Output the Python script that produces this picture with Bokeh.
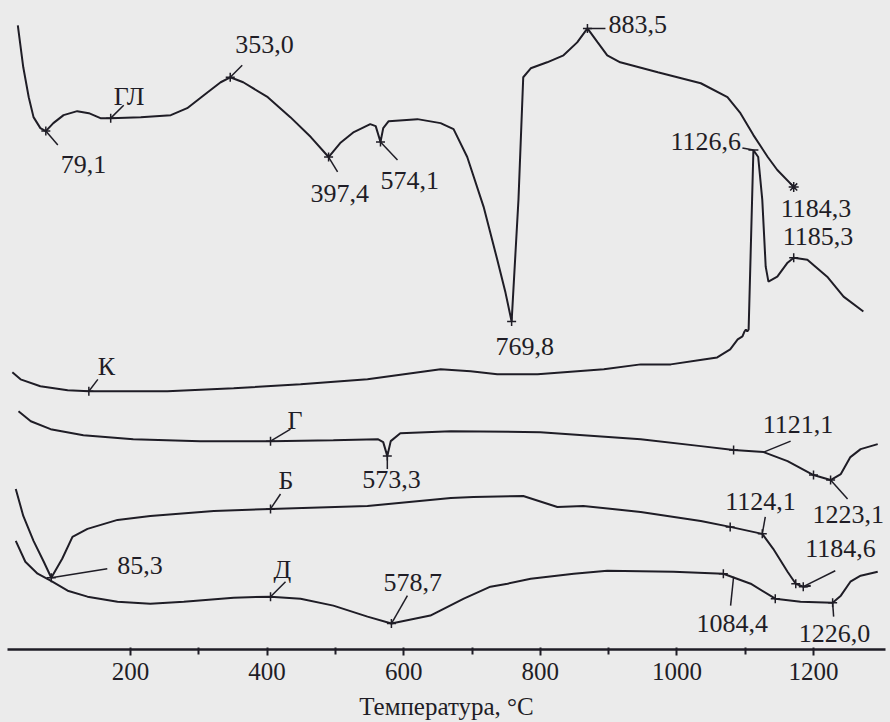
from bokeh.plotting import figure
from bokeh.models import Range1d, FixedTicker
from bokeh.core.properties import value
from bokeh.embed import file_html
from bokeh.resources import INLINE

# ---------------- data (temperature, °C ; DTA signal, arbitrary units, curves stacked) -------------
tick_major = [200, 400, 600, 800, 1000, 1200]
tick_minor = [300, 500, 700, 900, 1100]

# curve ГЛ
gl_t = [35, 43, 51, 58, 68, 76, 87, 102, 122, 139, 156, 171, 215, 259, 283, 313, 332, 346, 365, 401,
        434, 464, 490, 507, 527, 551, 559, 566, 570, 578, 620, 654, 673, 693, 717, 737, 749, 758, 768, 775,
        786, 810, 834, 854, 869, 884, 898, 917, 972, 1035, 1074, 1093, 1112, 1133, 1147, 1171]
gl_v = [626, 584, 554, 534, 523, 520, 528, 536, 540, 538, 533, 533, 534, 536, 543, 559, 569, 574, 569, 554,
        534, 514, 494, 508, 519, 527, 525, 509, 523, 530, 532, 528, 522, 494, 444, 391, 358, 329, 451, 574,
        583, 589, 596, 609, 623, 609, 596, 589, 579, 568, 554, 538, 516, 494, 481, 464]

# curve К
k_t = [27, 39, 68, 108, 139, 254, 351, 449, 547, 654, 698, 737, 796, 893, 947, 991, 1039, 1059, 1078, 1089,
       1096, 1099, 1101, 1103, 1105, 1112, 1119, 1125, 1130, 1134, 1147, 1162, 1171, 1191, 1220, 1244, 1273]
k_v = [278, 271, 264, 260, 259, 259, 262, 266, 271, 281, 279, 276, 276, 281, 286, 286, 291, 293, 301, 311,
       314, 319, 321, 319, 321, 501, 494, 451, 384, 369, 374, 388, 393, 391, 374, 354, 339]

# curve Г
g_t = [36, 54, 83, 131, 204, 302, 405, 497, 562, 570, 576, 581, 595, 669, 800, 947, 1035, 1083, 1127, 1162,
       1200, 1225, 1240, 1254, 1269, 1294]
g_v = [239, 229, 221, 215, 211, 209, 209, 210, 211, 208, 194, 209, 217, 219, 218, 211, 204, 200, 198, 189,
       175, 170, 176, 193, 201, 206]

# curve Б
b_t = [32, 43, 58, 73, 84, 100, 115, 137, 181, 229, 322, 405, 547, 669, 702, 775, 825, 863, 947, 1035,
       1078, 1125, 1141, 1162, 1174, 1185, 1196]
b_v = [161, 134, 109, 88, 72, 91, 113, 121, 130, 134, 139, 141, 144, 152, 153, 154, 143, 144, 138, 129,
       123, 116, 101, 78, 66, 63, 64]

# curve Д
d_t = [32, 46, 64, 83, 108, 137, 181, 229, 278, 351, 405, 449, 497, 547, 582, 639, 688, 727, 752, 786,
       849, 898, 995, 1068, 1108, 1144, 1181, 1228, 1240, 1254, 1269, 1294]
d_v = [109, 88, 76, 69, 59, 53, 48, 46, 48, 52, 53, 51, 44, 33, 26, 34, 51, 63, 66, 71,
       76, 79, 78, 76, 66, 51, 48, 47, 54, 68, 74, 78]

# annotated points on the curves
ann_text = ["79,1", "ГЛ", "353,0", "397,4", "574,1", "769,8", "883,5", "1184,3", "1126,6", "1185,3",
            "К", "Г", "573,3", "1121,1", "1223,1", "85,3", "Б", "1124,1", "1184,6", "Д", "578,7",
            "1084,4", "1226,0"]
ann_t = [76, 171, 346, 490, 566, 758, 869, 1171, 1112, 1171, 139, 405, 576, 1127, 1225, 84, 405, 1125,
         1185, 405, 582, 1083, 1228]
ann_v = [520, 533, 574, 494, 509, 329, 623, 464, 501, 393, 259, 209, 194, 198, 170, 72, 141, 116, 63,
         53, 26, 73, 47]
ann_mark = ["cross", "cross", "cross", "cross", "cross", "cross", "cross", "asterisk", "dash", "cross",
            "cross", "cross", "cross", None, "cross", "cross", "cross", "cross", "cross", "cross", "cross",
            None, "cross"]
# extra unlabelled tick marks
tick_t = [1083, 1200, 1078, 1174, 1068, 1144]
tick_v = [200, 175, 123, 66, 76, 51]

# ---------------- layout of the annotations (screen px, y down) ----------------
text_dx = [15, 3, 5, -18, 0, -16, 21, -13, -83, -11, 9, 17, -25, -1, -18, 66, 8, -37, 2, 3, -8, -37, -34]
text_dy = [34, -22, -33, 37, 39, 25, -4, 22, -9, -21, -25, -21, 23, -28, 35, -12, -29, -32, -38, -27, -41, 47, 31]
lead_dx = [12, 13, 12, 9, 17, 0, 18, 0, -11, 0, 9, 20, 0, 27, 17, 56, 10, 3, 32, 15, 16, -3, 1]
lead_dy = [14, -13, -12, 15, 18, 0, 0, 0, -2, 0, -12, -12, 13, -11, 19, -9, -15, -17, -16, -15, -28, 29, 14]

# ---------------- figure ----------------
BG = "#ebebeb"
INK = "#1f1d26"
FONT = "'Liberation Serif', 'Times New Roman', 'DejaVu Serif', serif"
FONT_TICK = "'Liberation Serif'"
W, H = 890, 722
BL, BR, BT, BB = 7, 5, 0, 71
X0, X1 = 19.9, 1305.4
Y0, Y1 = 0.0, 651.0
FRAME_W, FRAME_H = W - BL - BR, H - BT - BB
DPX = (X1 - X0) / FRAME_W
VPX = (Y1 - Y0) / FRAME_H

p = figure(width=W, height=H, x_range=Range1d(X0, X1), y_range=Range1d(Y0, Y1),
           output_backend="svg", toolbar_location=None, y_axis_location=None,
           min_border_left=BL, min_border_right=BR, min_border_top=BT, min_border_bottom=BB)
p.xgrid.visible = False
p.ygrid.visible = False
p.outline_line_color = None
p.background_fill_color = BG
p.border_fill_color = BG

ax = p.xaxis[0]
ax.ticker = FixedTicker(ticks=tick_major, minor_ticks=tick_minor)
ax.axis_line_width = 2.5
ax.axis_line_color = INK
ax.major_tick_line_color = INK
ax.minor_tick_line_color = INK
ax.major_tick_line_width = 2
ax.minor_tick_line_width = 2
ax.major_tick_out = 6
ax.major_tick_in = 2
ax.minor_tick_out = 5
ax.minor_tick_in = 2
ax.major_label_text_font = FONT_TICK
ax.major_label_text_font_size = "25px"
ax.major_label_text_color = INK
ax.major_label_standoff = 7
ax.axis_label = "Температура, °C"
ax.axis_label_text_font = FONT
ax.axis_label_text_font_size = "25px"
ax.axis_label_text_font_style = "normal"
ax.axis_label_text_color = INK
ax.axis_label_standoff = 10

for t, v in [(gl_t, gl_v), (k_t, k_v), (g_t, g_v), (b_t, b_v), (d_t, d_v)]:
    p.line(t, v, line_color=INK, line_width=2)

# leader lines
lx0, ly0, lx1, ly1 = [], [], [], []
for t, v, dx, dy in zip(ann_t, ann_v, lead_dx, lead_dy):
    if dx == 0 and dy == 0:
        continue
    lx0.append(t); ly0.append(v)
    lx1.append(t + dx * DPX); ly1.append(v - dy * VPX)
p.segment(lx0, ly0, lx1, ly1, line_color=INK, line_width=1.5)

# marks
for kind, size in [("cross", 9), ("asterisk", 10), ("dash", 10)]:
    xs = [t for t, m in zip(ann_t, ann_mark) if m == kind]
    ys = [v for v, m in zip(ann_v, ann_mark) if m == kind]
    if kind == "cross":
        xs += tick_t
        ys += tick_v
    p.scatter(xs, ys, marker=kind, size=size, line_color=INK, line_width=1.5)

# labels
tx = [t + dx * DPX for t, dx in zip(ann_t, text_dx)]
ty = [v - dy * VPX for v, dy in zip(ann_v, text_dy)]
p.text(tx, ty, text=ann_text, text_font=value(FONT), text_font_size="26px",
       text_align="left", text_baseline="middle", text_color=INK)

html = file_html(p, INLINE, title="DTA")
html = html.replace("</head>", "<style>body{background:%s;}</style></head>" % BG, 1)
open("out.html", "w").write(html)
